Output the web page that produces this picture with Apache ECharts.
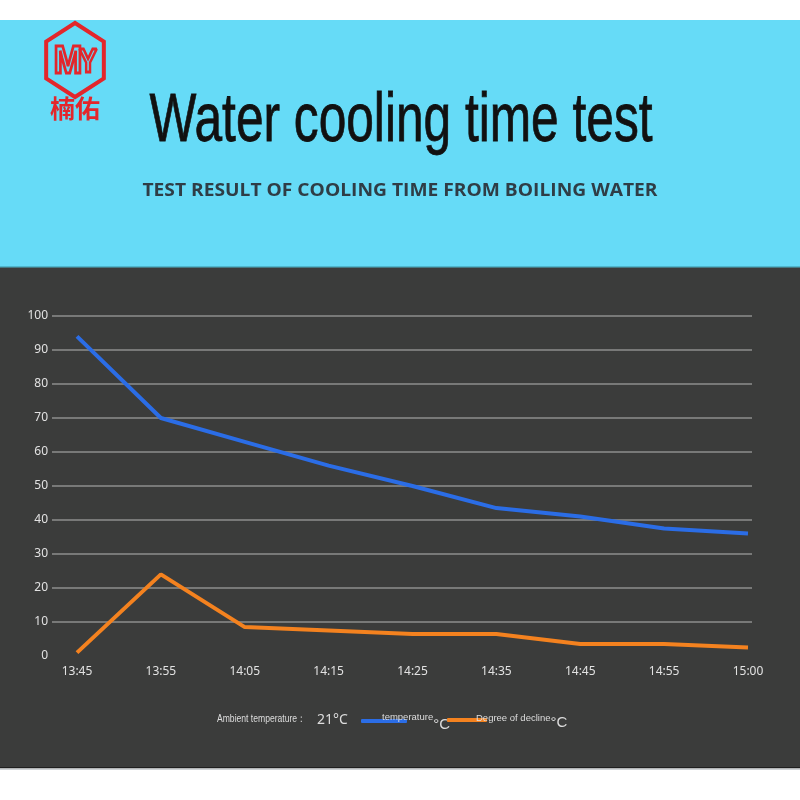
<!DOCTYPE html>
<html>
<head>
<meta charset="utf-8">
<script src="https://cdn.jsdelivr.net/npm/echarts@6/dist/echarts.min.js"></script>
<style>
  html, body { margin: 0; padding: 0; background: #fff; }
  #chart { width: 800px; height: 800px; }
</style>
</head>
<body>
<div id="chart"></div>
<script>
// time points along the x axis
const times = ['13:45', '13:55', '14:05', '14:15', '14:25', '14:35', '14:45', '14:55', '15:00'];
// water temperature, °C
const temperature = [94, 70, 63, 56, 50, 43.5, 41, 37.5, 36];
// drop since the previous reading, °C
const decline = [1, 24, 8.5, 7.5, 6.5, 6.5, 3.5, 3.5, 2.5];
// y axis ticks
const yMin = 0, yMax = 100, yStep = 10;

const bg = '#3b3c3b';
const labelColor = '#e2e2e2';

const chart = echarts.init(document.getElementById('chart'));

// red hexagon of the logo, pointy top
const hex = [];
for (let i = 0; i < 6; i++) {
    const a = Math.PI / 2 + i * Math.PI / 3;
    hex.push([75 + 37 * Math.cos(a) * 0.9, 60 - 37 * Math.sin(a)]);
}

const option = {
    backgroundColor: bg,
    animation: false,
    graphic: [
        { type: 'rect', shape: { x: 0, y: 0, width: 800, height: 20 }, style: { fill: '#fff' } },
        { type: 'rect', shape: { x: 0, y: 20, width: 800, height: 247 }, style: { fill: '#66dbf7' } },
        { type: 'rect', shape: { x: 0, y: 266, width: 800, height: 1.5 }, style: { fill: '#4fb6cc' } },
        { type: 'rect', shape: { x: 0, y: 767, width: 800, height: 1.5 }, style: { fill: '#1f1f1f' } },
        { type: 'rect', shape: { x: 0, y: 768.5, width: 800, height: 32 }, style: { fill: '#fff' } },
        { type: 'rect', shape: { x: 0, y: 768.5, width: 800, height: 1.5 }, style: { fill: '#cfd3d6' } },
        // logo
        { type: 'polygon', shape: { points: hex }, style: { fill: 'none', stroke: '#e3262b', lineWidth: 4 } },
        { type: 'text', x: 68, y: 63, scaleX: 0.9, style: { text: 'M', font: 'bold 38px "Liberation Sans"', fill: 'none', stroke: '#e3262b', lineWidth: 3, align: 'center', verticalAlign: 'middle' } },
        { type: 'text', x: 88, y: 63, scaleX: 0.8, style: { text: 'Y', font: 'bold 34px "Liberation Sans"', fill: 'none', stroke: '#e3262b', lineWidth: 3, align: 'center', verticalAlign: 'middle' } },
        { type: 'text', x: 75, y: 108, style: { text: '楠佑', font: 'bold 25px "Noto Sans CJK SC"', fill: '#e3262b', align: 'center', verticalAlign: 'middle' } },
        // headings
        { type: 'text', x: 401, y: 122, scaleX: 0.73, style: { text: 'Water cooling time test', font: 'normal 68px "Liberation Sans"', fill: '#111', stroke: '#111', lineWidth: 0.8, align: 'center', verticalAlign: 'middle' } },
        { type: 'text', x: 400, y: 191, scaleX: 1.13, style: { text: 'TEST RESULT OF COOLING TIME FROM BOILING WATER', font: 'bold 17px "Open Sans"', fill: '#2f3d46', align: 'center', verticalAlign: 'middle' } },
        // ambient note in the legend row
        { type: 'text', x: 217, y: 719, scaleX: 0.78, style: { text: 'Ambient temperature：', font: 'normal 11px "Liberation Sans"', fill: '#ddd', align: 'left', verticalAlign: 'middle' } },
        { type: 'text', x: 317, y: 720, style: { text: '21°C', font: 'normal 14px "Noto Sans"', fill: '#ddd', align: 'left', verticalAlign: 'middle' } }
    ],
    legend: [
        {
            left: 356, top: 707,
            data: [{ name: 'temperature', icon: 'roundRect' }],
            itemWidth: 46, itemHeight: 4, itemGap: 2,
            formatter: n => '{n|' + n + '}{u|°C}',
            textStyle: {
                rich: {
                    n: { fontSize: 9.5, color: '#ddd', padding: [0, 0, 8, -30], fontFamily: 'Liberation Sans' },
                    u: { fontSize: 15, color: '#ddd', padding: [8, 0, 0, 0], fontFamily: 'Liberation Sans' }
                }
            }
        },
        {
            left: 442, top: 708,
            data: [{ name: 'Degree of decline', icon: 'roundRect' }],
            itemWidth: 40, itemHeight: 4, itemGap: 2,
            formatter: n => '{n|' + n + '}{u|°C}',
            textStyle: {
                rich: {
                    n: { fontSize: 9.5, color: '#ddd', padding: [0, 0, 4, -16], fontFamily: 'Liberation Sans' },
                    u: { fontSize: 15, color: '#ddd', padding: [6, 0, 0, 0], fontFamily: 'Liberation Sans' }
                }
            }
        }
    ],
    grid: [
        { left: 77, right: 52, top: 316, bottom: 144 },
        { left: 52, right: 48, top: 316, bottom: 144 }
    ],
    xAxis: [
        {
            gridIndex: 0, type: 'category', boundaryGap: false, data: times,
            axisLine: { show: false }, axisTick: { show: false },
            axisLabel: { color: labelColor, fontSize: 12, margin: 10, fontFamily: 'Noto Sans' },
            splitLine: { show: false }
        },
        { gridIndex: 1, type: 'value', show: false }
    ],
    yAxis: [
        { gridIndex: 0, type: 'value', min: yMin, max: yMax, show: false },
        {
            gridIndex: 1, type: 'value', min: yMin, max: yMax, interval: yStep,
            axisLine: { show: false }, axisTick: { show: false },
            axisLabel: { color: labelColor, fontSize: 12, margin: 4, fontFamily: 'Noto Sans' },
            splitLine: { show: true, showMinLine: false, lineStyle: { color: '#8e8e8e', width: 1.5 } }
        }
    ],
    series: [
        {
            name: 'temperature', type: 'line', xAxisIndex: 0, yAxisIndex: 0,
            data: temperature, showSymbol: false, color: '#2b6de6',
            lineStyle: { width: 4, color: '#2b6de6' }
        },
        {
            name: 'Degree of decline', type: 'line', xAxisIndex: 0, yAxisIndex: 0,
            data: decline, showSymbol: false, color: '#f4821f',
            lineStyle: { width: 4, color: '#f4821f' }
        }
    ]
};

chart.setOption(option);
</script>
</body>
</html>
